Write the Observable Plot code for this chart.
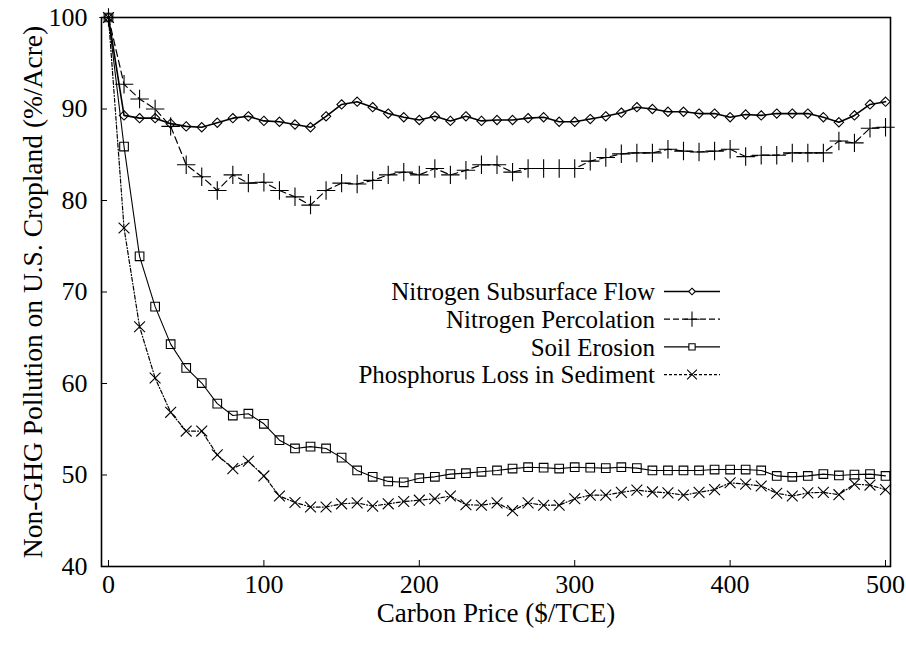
<!DOCTYPE html>
<html><head><meta charset="utf-8">
<script src="https://cdn.jsdelivr.net/npm/d3@7"></script>
<script src="https://cdn.jsdelivr.net/npm/@observablehq/plot@0.6"></script>
<style>
body{margin:0;background:#fff}
#chart{position:relative;width:906px;height:646px}
</style>
</head><body><div id="chart"></div>
<script>
const carbonPrice = [0,10,20,30,40,50,60,70,80,90,100,110,120,130,140,150,160,170,180,190,200,210,220,230,240,250,260,270,280,290,300,310,320,330,340,350,360,370,380,390,400,410,420,430,440,450,460,470,480,490,500];
const nitrogenSubsurface = [100,89.3,89.0,89.0,88.4,88.1,88.0,88.5,89.0,89.2,88.7,88.6,88.3,88.0,89.2,90.5,90.8,90.2,89.5,89.1,88.8,89.2,88.7,89.2,88.7,88.8,88.8,89.0,89.1,88.6,88.6,88.9,89.2,89.6,90.2,90.0,89.7,89.7,89.5,89.5,89.1,89.4,89.3,89.5,89.5,89.5,89.1,88.55,89.3,90.5,90.8];
const nitrogenPercolation = [100,92.7,91.1,90.0,88.1,83.9,82.6,81.1,82.8,81.9,82.0,81.1,80.4,79.5,81.1,81.9,81.8,82.2,82.8,83.1,82.8,83.5,82.8,83.3,83.9,83.9,83.1,83.5,83.5,83.5,83.5,84.3,84.7,85.1,85.2,85.2,85.6,85.4,85.3,85.4,85.6,84.8,84.95,84.95,85.2,85.2,85.2,86.5,86.3,87.9,88.0];
const soilErosion = [100,85.9,73.9,68.4,64.3,61.7,60.05,57.8,56.5,56.7,55.6,53.8,52.9,53.1,52.9,51.9,50.5,49.8,49.3,49.2,49.65,49.8,50.1,50.2,50.35,50.5,50.7,50.85,50.8,50.7,50.85,50.8,50.75,50.85,50.75,50.5,50.5,50.5,50.5,50.6,50.6,50.6,50.5,49.9,49.8,49.9,50.1,49.95,50.05,50.1,49.9];
const phosphorusLoss = [100,77.0,66.2,60.6,56.85,54.8,54.8,52.2,50.7,51.5,49.9,47.7,47.0,46.5,46.5,46.85,46.95,46.6,46.85,47.1,47.25,47.4,47.7,46.75,46.7,46.95,46.1,46.95,46.7,46.7,47.4,47.8,47.8,48.1,48.35,48.15,48.05,47.8,48.1,48.4,49.15,49.0,48.8,48.0,47.7,48.05,48.1,47.85,49.0,48.9,48.4];
const seriesNames = ["Nitrogen Subsurface Flow","Nitrogen Percolation","Soil Erosion","Phosphorus Loss in Sediment"];
const xTicks = [0,100,200,300,400,500];
const yTicks = [40,50,60,70,80,90,100];
const xLabel = "Carbon Price ($/TCE)";
const yLabel = "Non-GHG Pollution on U.S. Cropland (%/Acre)";

const seriesValues = [nitrogenSubsurface, nitrogenPercolation, soilErosion, phosphorusLoss];
const styles = [
  {symbol: "diamond2", r: 4.2, dash: null, legendDash: null, sw: 1.6, legendR: 3},
  {symbol: "plus", r: 6, dash: "7,4", legendDash: "6,3", sw: 1.2, legendR: 5},
  {symbol: "square2", r: 5.5, dash: null, legendDash: null, sw: 1.1, legendR: 4},
  {symbol: "times", r: 5, dash: "4,2,1,2", legendDash: "3,2", sw: 1.2, legendR: 4.5}
];

const rows = seriesNames.map((name, s) => carbonPrice.map((x, i) => ({series: name, x, y: seriesValues[s][i]})));

const font = "Liberation Serif, Times New Roman, serif";
const marks = [];
rows.forEach((data, s) => {
  const st = styles[s];
  marks.push(Plot.line(data, {x: "x", y: "y", stroke: "black", strokeWidth: st.sw, strokeDasharray: st.dash}));
  marks.push(Plot.dot(data, {x: "x", y: "y", symbol: () => st.symbol, r: st.r, stroke: "black", fill: "none", strokeWidth: 1.1}));
});

const chart = Plot.plot({
  width: 906, height: 646,
  marginLeft: 101, marginRight: 16, marginTop: 17, marginBottom: 80,
  style: {fontFamily: font, fontSize: "26px", color: "black", background: "white"},
  x: {domain: [-4.5, 503.2]},
  y: {domain: [40, 100]},
  marks: [
    Plot.axisX(xTicks, {tickSize: -6, tickPadding: 14, fontSize: 26, label: null, tickFormat: d => d}),
    Plot.axisY(yTicks, {tickSize: -6, tickPadding: 20, fontSize: 26, label: null, tickFormat: d => d}),
    Plot.text([xLabel], {frameAnchor: "bottom", dy: 55, fontSize: 27, text: d => d, fill: "black"}),
    Plot.text([yLabel], {frameAnchor: "left", dx: -68, rotate: -90, textAnchor: "middle", fontSize: 27.5, text: d => d, fill: "black"}),
    ...marks,
    Plot.frame({stroke: "black", strokeWidth: 1.6})
  ]
});
document.getElementById("chart").appendChild(chart);

// legend
const svg = d3.select(chart);
const lg = svg.append("g").attr("font-size", 25).attr("font-family", font);
const symMap = {diamond2: d3.symbolDiamond2, plus: d3.symbolPlus, square2: d3.symbolSquare2, times: d3.symbolTimes};
seriesNames.forEach((name, s) => {
  const st = styles[s];
  const cy = 291.5 + s * 27.7;
  lg.append("text").attr("x", 655).attr("y", cy).attr("dy", "0.35em").attr("text-anchor", "end").attr("fill", "black").text(name);
  lg.append("line").attr("x1", 664).attr("x2", 720).attr("y1", cy).attr("y2", cy)
    .attr("stroke", "black").attr("stroke-width", st.sw).attr("stroke-dasharray", st.legendDash);
  lg.append("path").attr("transform", `translate(692,${cy})`)
    .attr("d", d3.symbol(symMap[st.symbol], Math.PI * st.legendR * st.legendR)())
    .attr("fill", "white").attr("stroke", "black").attr("stroke-width", 1.1);
});
</script>
</body></html>
